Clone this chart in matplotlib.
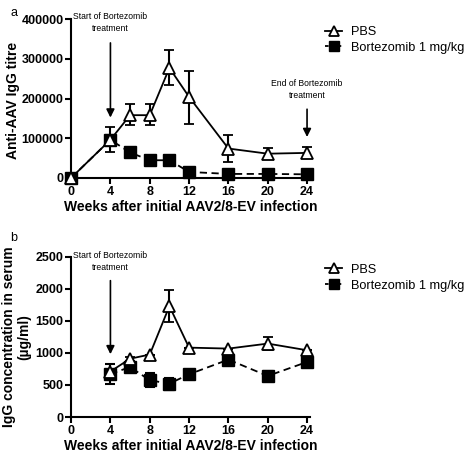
import matplotlib
matplotlib.use('Agg')
import matplotlib.pyplot as plt
from matplotlib.lines import Line2D

plt.rcParams['font.family'] = ['Liberation Sans', 'DejaVu Sans']

# panel a: anti-AAV IgG titre
weeks_a = [0, 4, 6, 8, 10, 12, 16, 20, 24]
pbs_a = [0, 96000, 158000, 158000, 277000, 204000, 74000, 61000, 63000]
pbs_a_lo = [0, 31000, 25000, 25000, 43000, 69000, 34000, 10000, 10000]
pbs_a_hi = [0, 32000, 29000, 29000, 44000, 66000, 35000, 15000, 15000]
bort_a = [0, 96000, 64000, 44500, 44500, 15000, 10000, 10000, 9000]
bort_a_err = [0, 12000, 0, 0, 0, 0, 0, 0, 0]

# panel b: IgG concentration in serum
weeks_b = [4, 6, 8, 10, 12, 16, 20, 24]
pbs_b = [710, 910, 975, 1730, 1083, 1068, 1146, 1042]
pbs_b_err = [110, 30, 0, 250, 0, 0, 105, 0]
bort_b = [670, 781, 573, 521, 667, 896, 641, 859]
bort_b_err = [150, 0, 110, 95, 0, 0, 80, 0]

xticks = [0, 4, 8, 12, 16, 20, 24]
yticks_a = [0, 100000, 200000, 300000, 400000]
yticks_b = [0, 500, 1000, 1500, 2000, 2500]

xlabel = "Weeks after initial AAV2/8-EV infection"
dash = (0, (4, 2.5))


def style_axes(ax):
    ax.spines['top'].set_visible(False)
    ax.spines['right'].set_visible(False)
    ax.spines['left'].set_linewidth(1.5)
    ax.spines['bottom'].set_linewidth(1.5)
    ax.tick_params(width=1.5, length=4, direction='out', pad=1.5)
    ax.set_xticks(xticks)
    ax.set_xlim(0, 24.3)
    for lab in ax.get_xticklabels() + ax.get_yticklabels():
        lab.set_fontweight('bold')
        lab.set_fontsize(9)
    ax.set_xlabel(xlabel, fontsize=10, fontweight='bold', labelpad=2)


def draw_series(ax, x, pbs, pbs_err, bort, bort_err):
    ax.errorbar(x, bort, yerr=bort_err, color='black', lw=1.3, ls=dash,
                marker='s', ms=8, mfc='black', capsize=3.8, elinewidth=1.5,
                capthick=1.5, clip_on=False, zorder=3)
    ax.errorbar(x, pbs, yerr=pbs_err, color='black', lw=1.3, ls='-',
                marker='^', ms=9, mfc='white', mew=1.3, capsize=3.8, elinewidth=1.5,
                capthick=1.5, clip_on=False, zorder=4)


def add_legend(ax):
    handles = [
        Line2D([], [], color='black', lw=1.3, marker='^', ms=7, mfc='white', mew=1.3),
        Line2D([], [], color='black', lw=1.3, ls=(0, (2, 1.5)), marker='s', ms=6.5, mfc='black'),
    ]
    ax.legend(handles, ['PBS', 'Bortezomib 1 mg/kg'], loc='upper left',
              bbox_to_anchor=(1.063, 0.956), frameon=False, fontsize=9.2,
              handlelength=1.35, handletextpad=0.7, labelspacing=0.3,
              borderpad=0, borderaxespad=0)


def start_arrow(ax, y_tip, y_tail, y_text):
    ax.annotate("", xy=(4, y_tip), xytext=(4, y_tail),
                arrowprops=dict(arrowstyle='-|>', color='black', lw=1.2, mutation_scale=12))
    ax.text(4, y_text, "Start of Bortezomib\ntreatment", ha='center', va='bottom',
            fontsize=6.2, linespacing=1.4)


fig = plt.figure(figsize=(4.74, 4.55), dpi=100)

ax1 = fig.add_axes([0.150, 0.609, 0.504, 0.349])
draw_series(ax1, weeks_a, pbs_a, [pbs_a_lo, pbs_a_hi], bort_a, bort_a_err)
ax1.set_ylim(0, 400000)
ax1.set_yticks(yticks_a)
style_axes(ax1)
ax1.set_ylabel("Anti-AAV IgG titre", fontsize=10, fontweight='bold')
ax1.yaxis.set_label_coords(-0.213, 0.49)
start_arrow(ax1, 145000, 347000, 365000)
ax1.annotate("", xy=(24, 96000), xytext=(24, 180000),
             arrowprops=dict(arrowstyle='-|>', color='black', lw=1.2, mutation_scale=12))
ax1.text(24, 197000, "End of Bortezomib\ntreatment", ha='center', va='bottom',
         fontsize=6.2, linespacing=1.4)
add_legend(ax1)

ax2 = fig.add_axes([0.150, 0.0835, 0.504, 0.352])
draw_series(ax2, weeks_b, pbs_b, pbs_b_err, bort_b, bort_b_err)
ax2.set_ylim(0, 2500)
ax2.set_yticks(yticks_b)
style_axes(ax2)
ax2.set_ylabel("IgG concentration in serum\n(\u00b5g/ml)", fontsize=10,
               fontweight='bold', linespacing=1.1)
ax2.yaxis.set_label_coords(-0.167, 0.5)
start_arrow(ax2, 937, 2172, 2270)
add_legend(ax2)

fig.text(0.022, 0.985, "a", fontsize=9, va='top')
fig.text(0.022, 0.49, "b", fontsize=9, va='top')

fig.savefig("out.png", dpi=100)
